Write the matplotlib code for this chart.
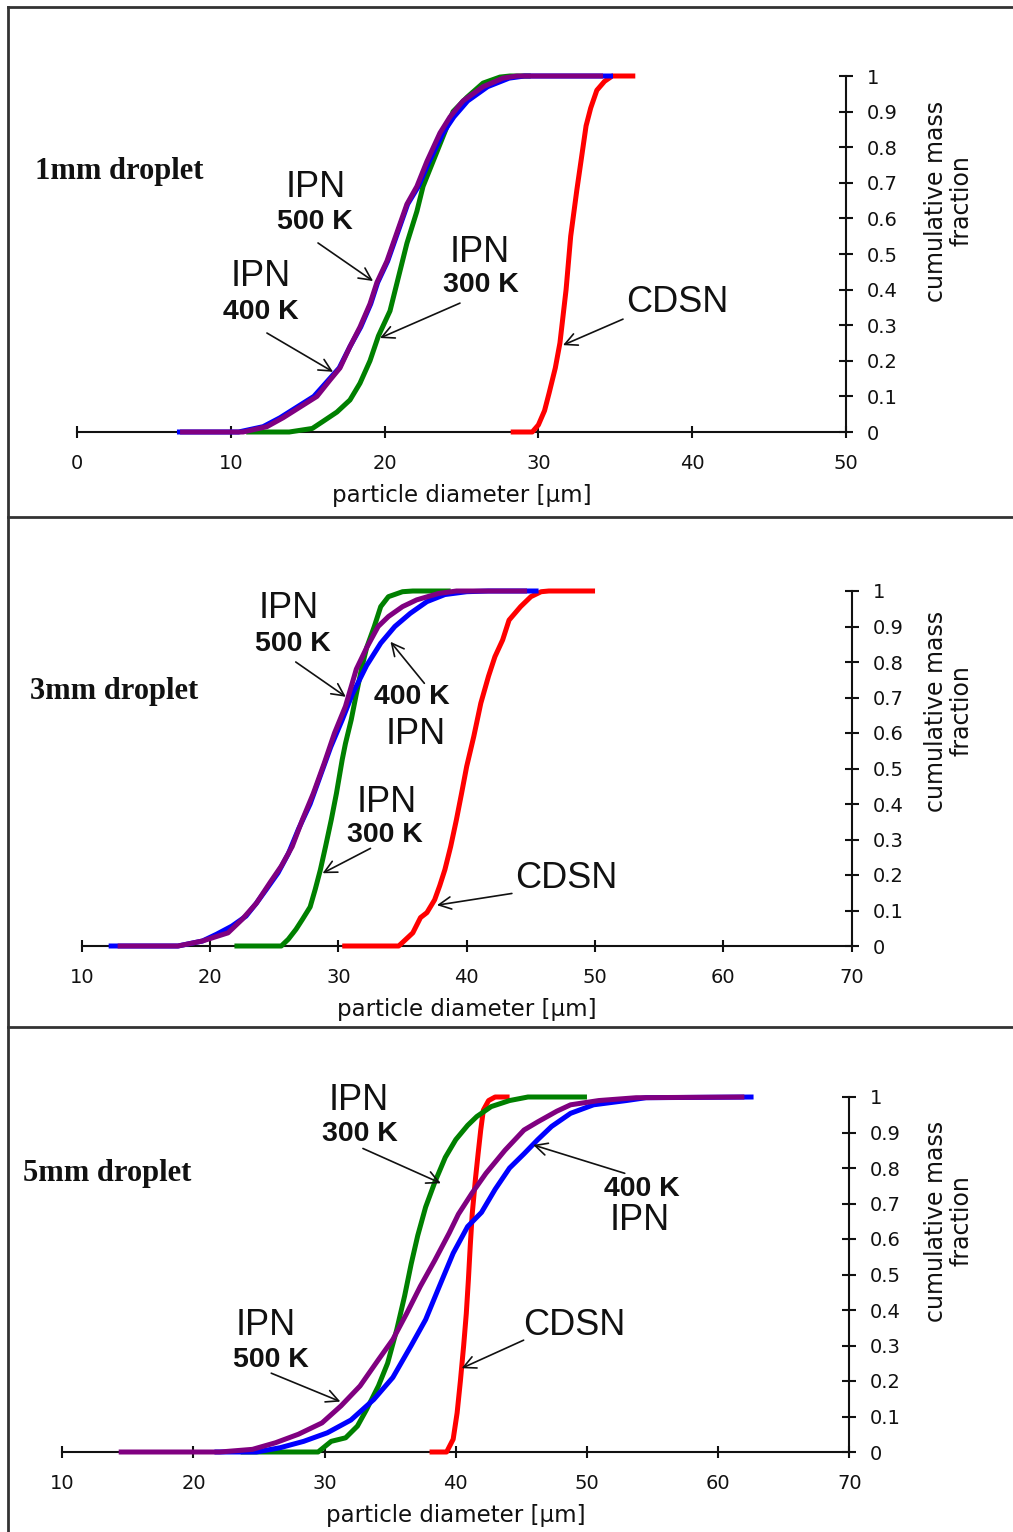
import matplotlib
matplotlib.use("Agg")
import matplotlib.pyplot as plt
from matplotlib.lines import Line2D
import numpy as np

W, H, DPI = 1013, 1532, 100

# ---------------- data ----------------
# Panel 1: 1 mm droplet
p1_cdsn_x = [28.2, 29.6, 30.0, 30.4, 30.7, 31.1, 31.4, 31.8, 32.1, 32.5, 32.8, 33.1, 33.4, 33.8, 34.3, 34.8, 36.3]
p1_cdsn_y = [0, 0, 0.02, 0.06, 0.11, 0.18, 0.25, 0.40, 0.55, 0.68, 0.77, 0.86, 0.91, 0.96, 0.985, 1.0, 1.0]
p1_300_x = [11.0, 13.8, 15.3, 16.0, 16.9, 17.75, 18.4, 19.05, 19.6, 20.35, 20.9, 21.45, 22.1, 22.5, 23.15, 23.8, 24.45, 25.35, 26.4, 27.5, 28.15, 29.5]
p1_300_y = [0, 0, 0.01, 0.03, 0.056, 0.09, 0.137, 0.20, 0.27, 0.34, 0.435, 0.53, 0.62, 0.69, 0.76, 0.83, 0.90, 0.94, 0.98, 0.997, 1.0, 1.0]
p1_400_x = [6.5, 10.5, 12.1, 13.2, 14.3, 15.4, 16.35, 17.05, 17.75, 18.45, 19.1, 19.55, 20.2, 20.85, 21.5, 22.2, 22.9, 23.8, 24.5, 25.4, 26.7, 28.1, 29.1, 34.85]
p1_400_y = [0, 0, 0.015, 0.04, 0.07, 0.10, 0.146, 0.18, 0.24, 0.295, 0.36, 0.42, 0.48, 0.56, 0.64, 0.69, 0.76, 0.84, 0.885, 0.93, 0.97, 0.994, 1.0, 1.0]
p1_500_x = [6.7, 10.8, 12.35, 13.4, 14.5, 15.6, 16.45, 17.1, 17.75, 18.4, 19.05, 19.5, 20.15, 20.8, 21.45, 22.1, 22.75, 23.6, 24.25, 25.1, 26.4, 27.7, 28.6, 34.2]
p1_500_y = [0, 0, 0.015, 0.04, 0.07, 0.10, 0.146, 0.18, 0.24, 0.295, 0.36, 0.42, 0.48, 0.56, 0.64, 0.69, 0.76, 0.84, 0.885, 0.93, 0.97, 0.994, 1.0, 1.0]

# Panel 2: 3 mm droplet
p2_cdsn_x = [30.3, 34.7, 35.0, 35.8, 36.4, 36.9, 37.5, 37.9, 38.3, 38.75, 39.2, 39.6, 40.0, 40.55, 41.1, 41.7, 42.2, 42.8, 43.3, 44.2, 45.0, 45.8, 46.4, 50.0]
p2_cdsn_y = [0, 0, 0.01, 0.037, 0.08, 0.094, 0.13, 0.17, 0.215, 0.28, 0.356, 0.43, 0.506, 0.59, 0.684, 0.76, 0.815, 0.862, 0.918, 0.956, 0.984, 0.998, 1.0, 1.0]
p2_300_x = [21.9, 25.55, 26.1, 26.7, 27.2, 27.8, 28.2, 28.6, 29.0, 29.45, 29.85, 30.3, 30.55, 31.0, 31.4, 31.8, 32.2, 32.8, 33.3, 33.9, 35.0, 35.8, 38.75]
p2_300_y = [0, 0, 0.019, 0.047, 0.075, 0.11, 0.16, 0.215, 0.28, 0.356, 0.43, 0.525, 0.57, 0.637, 0.71, 0.78, 0.84, 0.90, 0.956, 0.984, 0.998, 1.0, 1.0]
p2_400_x = [12.1, 17.5, 19.4, 20.5, 21.7, 22.8, 23.6, 24.4, 25.3, 26.1, 26.9, 27.8, 28.6, 29.4, 30.3, 31.1, 32.2, 33.3, 34.4, 35.6, 36.9, 38.3, 40.0, 41.7, 45.6]
p2_400_y = [0, 0, 0.014, 0.033, 0.056, 0.084, 0.12, 0.16, 0.206, 0.26, 0.33, 0.40, 0.48, 0.56, 0.637, 0.71, 0.79, 0.853, 0.90, 0.937, 0.97, 0.99, 0.998, 1.0, 1.0]
p2_500_x = [12.8, 17.5, 19.4, 21.4, 22.5, 23.6, 24.7, 25.55, 26.4, 27.2, 28.05, 28.9, 29.7, 30.55, 31.4, 32.2, 33.1, 33.9, 35.0, 36.1, 37.8, 39.2, 44.7]
p2_500_y = [0, 0, 0.014, 0.037, 0.075, 0.12, 0.18, 0.225, 0.28, 0.356, 0.43, 0.515, 0.60, 0.675, 0.78, 0.84, 0.90, 0.928, 0.956, 0.975, 0.993, 1.0, 1.0]

# Panel 3: 5 mm droplet
p3_cdsn_x = [38.0, 39.3, 39.8, 40.1, 40.35, 40.6, 40.8, 40.96, 41.1, 41.25, 41.5, 41.7, 41.9, 42.1, 42.5, 43.0, 44.1]
p3_cdsn_y = [0, 0, 0.036, 0.11, 0.20, 0.30, 0.39, 0.485, 0.58, 0.67, 0.77, 0.84, 0.907, 0.963, 0.99, 1.0, 1.0]
p3_300_x = [23.6, 29.5, 30.5, 31.6, 32.5, 33.2, 34.1, 34.8, 35.5, 36.1, 36.6, 37.1, 37.7, 38.4, 39.2, 40.0, 40.9, 41.6, 42.7, 44.1, 45.5, 50.0]
p3_300_y = [0, 0, 0.03, 0.04, 0.073, 0.12, 0.186, 0.25, 0.345, 0.44, 0.53, 0.61, 0.69, 0.76, 0.83, 0.88, 0.92, 0.945, 0.973, 0.99, 1.0, 1.0]
p3_400_x = [21.6, 24.8, 26.6, 28.4, 30.2, 32.0, 33.75, 35.2, 36.6, 37.7, 38.75, 39.8, 40.9, 41.96, 43.0, 44.1, 45.2, 46.25, 47.3, 48.75, 50.5, 53.0, 54.5, 62.7]
p3_400_y = [0, 0, 0.012, 0.03, 0.054, 0.09, 0.148, 0.21, 0.30, 0.373, 0.467, 0.56, 0.635, 0.675, 0.74, 0.80, 0.84, 0.88, 0.917, 0.954, 0.978, 0.99, 0.998, 1.0]
p3_500_x = [14.3, 22.0, 24.5, 26.25, 28.0, 29.8, 31.25, 32.7, 34.1, 35.2, 36.25, 37.3, 38.4, 39.5, 40.2, 41.25, 42.3, 43.75, 45.2, 46.25, 47.7, 48.75, 50.9, 53.75, 62.0]
p3_500_y = [0, 0, 0.0075, 0.026, 0.05, 0.082, 0.13, 0.186, 0.26, 0.317, 0.39, 0.467, 0.54, 0.617, 0.67, 0.73, 0.785, 0.85, 0.907, 0.93, 0.96, 0.978, 0.99, 0.998, 1.0]

y_ticks = [0, 0.1, 0.2, 0.3, 0.4, 0.5, 0.6, 0.7, 0.8, 0.9, 1.0]
y_tick_labels = ['0', '0.1', '0.2', '0.3', '0.4', '0.5', '0.6', '0.7', '0.8', '0.9', '1']
p1_xticks = [0, 10, 20, 30, 40, 50]
p23_xticks = [10, 20, 30, 40, 50, 60, 70]
droplet_labels = ['1mm droplet', '3mm droplet', '5mm droplet']

C_RED, C_GREEN, C_BLUE, C_PURPLE = '#ff0000', '#008000', '#0000ff', '#800080'

fig = plt.figure(figsize=(W / DPI, H / DPI), dpi=DPI)
fig.patch.set_facecolor('white')


def fx(px):
    return px / W


def fy(py):
    return 1 - py / H


def add_panel(left, right, bottom, top):
    return fig.add_axes([fx(left), fy(bottom), (right - left) / W, (bottom - top) / H])


SANS = ['DejaVu Sans']
LAB = 'Liberation Sans'


def style(ax, xlim, xticks):
    ax.set_xlim(*xlim)
    ax.set_ylim(0, 1)
    ax.patch.set_alpha(0)
    for s in ['left', 'top']:
        ax.spines[s].set_visible(False)
    for s in ['bottom', 'right']:
        ax.spines[s].set_linewidth(1.5)
        ax.spines[s].set_color('#111111')
    ax.yaxis.tick_right()
    ax.set_yticks(y_ticks)
    ax.set_yticklabels(y_tick_labels)
    ax.set_xticks(xticks)
    ax.tick_params(axis='y', direction='inout', length=10, width=1.5, pad=10,
                   labelsize=14, colors='#111111')
    ax.tick_params(axis='x', direction='inout', length=8, width=1.5, pad=12,
                   labelsize=14, colors='#111111')
    for lab in ax.get_xticklabels() + ax.get_yticklabels():
        lab.set_family(SANS)
    ax.set_xlabel('particle diameter [\u00b5m]', fontsize=16.5, family=SANS,
                  labelpad=8, color='#111111')


def curves(ax, series):
    for (x, y, c) in series:
        ax.plot(x, y, color=c, lw=3.6, solid_capstyle='butt', clip_on=False, zorder=3)


def label(ax, x, y, s, size=26, bold=False):
    ax.text(x, y, s, ha='center', va='center', fontsize=size, family=LAB,
            fontweight='bold' if bold else 'normal', color='#111111', zorder=5)


def arrow(ax, start, tip):
    ax.annotate('', xy=tip, xytext=start,
                arrowprops=dict(arrowstyle='->', lw=1.2, color='#111111',
                                shrinkA=0, shrinkB=0, mutation_scale=22), zorder=5)


# ---------------- panel 1 ----------------
ax1 = add_panel(77, 846, 432, 76)
style(ax1, (0, 50), p1_xticks)
curves(ax1, [(p1_cdsn_x, p1_cdsn_y, C_RED), (p1_300_x, p1_300_y, C_GREEN),
             (p1_400_x, p1_400_y, C_BLUE), (p1_500_x, p1_500_y, C_PURPLE)])
label(ax1, 15.54, 0.688, 'IPN')
label(ax1, 15.47, 0.590, '500 K', size=20.5, bold=True)
arrow(ax1, (15.67, 0.531), (19.25, 0.424))
label(ax1, 11.96, 0.438, 'IPN')
label(ax1, 11.96, 0.337, '400 K', size=20.5, bold=True)
arrow(ax1, (12.35, 0.278), (16.65, 0.169))
label(ax1, 26.2, 0.503, 'IPN')
label(ax1, 26.27, 0.413, '300 K', size=20.5, bold=True)
arrow(ax1, (24.9, 0.362), (19.7, 0.264))
label(ax1, 39.0, 0.365, 'CDSN')
arrow(ax1, (35.5, 0.317), (31.6, 0.244))

# ---------------- panel 2 ----------------
ax2 = add_panel(81.7, 851.7, 946, 591)
style(ax2, (10, 70), p23_xticks)
curves(ax2, [(p2_cdsn_x, p2_cdsn_y, C_RED), (p2_300_x, p2_300_y, C_GREEN),
             (p2_400_x, p2_400_y, C_BLUE), (p2_500_x, p2_500_y, C_PURPLE)])
label(ax2, 26.16, 0.952, 'IPN')
label(ax2, 26.47, 0.851, '500 K', size=20.5, bold=True)
arrow(ax2, (26.68, 0.80), (30.58, 0.702))
label(ax2, 35.74, 0.701, '400 K', size=20.5, bold=True)
label(ax2, 36.05, 0.597, 'IPN')
arrow(ax2, (36.7, 0.74), (34.06, 0.857))
label(ax2, 33.8, 0.403, 'IPN')
label(ax2, 33.64, 0.313, '300 K', size=20.5, bold=True)
arrow(ax2, (32.5, 0.275), (28.77, 0.205))
label(ax2, 47.8, 0.189, 'CDSN')
arrow(ax2, (43.52, 0.148), (37.68, 0.115))

# ---------------- panel 3 ----------------
ax3 = add_panel(62.3, 849.3, 1452, 1097)
style(ax3, (10, 70), p23_xticks)
curves(ax3, [(p3_cdsn_x, p3_cdsn_y, C_RED), (p3_300_x, p3_300_y, C_GREEN),
             (p3_400_x, p3_400_y, C_BLUE), (p3_500_x, p3_500_y, C_PURPLE)])
label(ax3, 32.62, 0.989, 'IPN')
label(ax3, 32.7, 0.896, '300 K', size=20.5, bold=True)
arrow(ax3, (32.92, 0.855), (38.86, 0.757))
label(ax3, 54.19, 0.741, '400 K', size=20.5, bold=True)
label(ax3, 54.04, 0.651, 'IPN')
arrow(ax3, (52.88, 0.785), (45.9, 0.865))
label(ax3, 25.53, 0.355, 'IPN')
label(ax3, 25.91, 0.259, '500 K', size=20.5, bold=True)
arrow(ax3, (25.93, 0.222), (31.2, 0.142))
label(ax3, 49.0, 0.355, 'CDSN')
arrow(ax3, (45.17, 0.315), (40.45, 0.236))

# droplet labels and y labels (figure pixel positions)
for (s, px, py) in zip(droplet_labels, [35, 30, 23], [172, 691, 1174]):
    fig.text(fx(px), fy(py), s, ha='left', va='center', fontsize=22,
             family='Liberation Serif', fontweight='bold', color='#111111')
for py in [201, 711, 1221]:
    fig.text(fx(949), fy(py), 'cumulative mass\nfraction', rotation=90,
             ha='center', va='center', fontsize=17, family=SANS,
             linespacing=1.1, color='#111111')

# frame lines
for (xs, ys) in [([8, 8], [7, H]), ([8, W], [7, 7]),
                 ([8, W], [517, 517]), ([8, W], [1027, 1027])]:
    fig.add_artist(Line2D([fx(v) for v in xs], [fy(v) for v in ys],
                          transform=fig.transFigure, color='#333333', lw=2.0))

fig.savefig('out.png', dpi=DPI, facecolor='white')
